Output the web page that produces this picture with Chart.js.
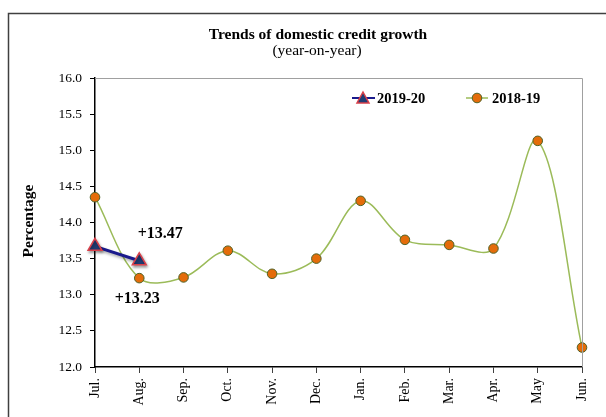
<!DOCTYPE html>
<html>
<head>
<meta charset="utf-8">
<script src="https://cdn.jsdelivr.net/npm/chart.js@4"></script>
<style>
  html, body { margin: 0; padding: 0; background: #fff; }
  #wrap { width: 606px; height: 417px; position: relative; }
</style>
</head>
<body>
<div id="wrap"><canvas id="creditChart" width="606" height="417"></canvas></div>
<script>
const months = ["Jul.", "Aug.", "Sep.", "Oct.", "Nov.", "Dec.", "Jan.", "Feb.", "Mar.", "Apr.", "May", "Jun."];
const growth1920 = [13.67, 13.47];
const growth1819 = [14.35, 13.23, 13.24, 13.61, 13.29, 13.50, 14.30, 13.76, 13.69, 13.64, 15.13, 12.27];
const yTicks = [12.0, 12.5, 13.0, 13.5, 14.0, 14.5, 15.0, 15.5, 16.0];

const serif = "'Liberation Serif', 'Times New Roman', serif";

// soft shadow under the 2019-20 line, like the original
const lineShadow = {
  id: "lineShadow",
  beforeDatasetDraw(chart, args) {
    if (args.index !== 0) return;
    const ctx = chart.ctx;
    ctx.save();
    ctx.shadowColor = "rgba(0,0,0,0.35)";
    ctx.shadowBlur = 3;
    ctx.shadowOffsetX = 1;
    ctx.shadowOffsetY = 2;
  },
  afterDatasetDraw(chart, args) {
    if (args.index !== 0) return;
    chart.ctx.restore();
  }
};

// titles, legend, axis title and the two value labels
const decorations = {
  id: "decorations",
  afterDraw(chart) {
    const ctx = chart.ctx;
    const area = chart.chartArea;
    const x = chart.scales.x;
    const y = chart.scales.y;
    ctx.save();

    // outer frame
    ctx.strokeStyle = "#404040";
    ctx.lineWidth = 1.5;
    ctx.beginPath();
    ctx.moveTo(8.5, 420);
    ctx.lineTo(8.5, 13.5);
    ctx.lineTo(606, 13.5);
    ctx.stroke();

    // plot frame top/right
    ctx.strokeStyle = "#a0a0a0";
    ctx.lineWidth = 1;
    ctx.beginPath();
    ctx.moveTo(area.left, area.top + 0.5);
    ctx.lineTo(area.right + 0.5, area.top + 0.5);
    ctx.lineTo(area.right + 0.5, area.bottom);
    ctx.stroke();

    ctx.fillStyle = "#000";
    ctx.textAlign = "center";
    ctx.textBaseline = "alphabetic";
    ctx.font = "bold 15.5px " + serif;
    ctx.fillText("Trends of domestic credit growth", 318, 39);
    ctx.font = "15.5px " + serif;
    ctx.fillText("(year-on-year)", 317, 55);

    // y title
    ctx.save();
    ctx.translate(33, 221);
    ctx.rotate(-Math.PI / 2);
    ctx.font = "bold 15.5px " + serif;
    ctx.textBaseline = "alphabetic";
    ctx.fillText("Percentage", 0, 0);
    ctx.restore();

    // legend
    const ly = 98;
    ctx.lineWidth = 2;
    ctx.strokeStyle = "#1a1a8c";
    ctx.beginPath(); ctx.moveTo(352, ly); ctx.lineTo(375, ly); ctx.stroke();
    ctx.fillStyle = "#1f3b73";
    ctx.strokeStyle = "#d9404a";
    ctx.lineWidth = 1.5;
    ctx.beginPath();
    ctx.moveTo(363, ly - 6); ctx.lineTo(369, ly + 5); ctx.lineTo(357, ly + 5); ctx.closePath();
    ctx.fill(); ctx.stroke();

    ctx.strokeStyle = "#9bbb59";
    ctx.lineWidth = 1.5;
    ctx.beginPath(); ctx.moveTo(466, ly); ctx.lineTo(488, ly); ctx.stroke();
    ctx.fillStyle = "#e46c0a";
    ctx.strokeStyle = "#4f6228";
    ctx.lineWidth = 1;
    ctx.beginPath(); ctx.arc(477, ly, 4.8, 0, Math.PI * 2); ctx.fill(); ctx.stroke();

    ctx.fillStyle = "#000";
    ctx.textAlign = "left";
    ctx.textBaseline = "middle";
    ctx.font = "bold 14.5px " + serif;
    ctx.fillText("2019-20", 377, ly + 1);
    ctx.fillText("2018-19", 492, ly + 1);

    // value labels
    ctx.font = "bold 16px " + serif;
    ctx.textAlign = "center";
    const ax = x.getPixelForValue(1);
    ctx.fillText("+" + growth1920[1].toFixed(2), ax + 21, y.getPixelForValue(growth1920[1]) - 27);
    ctx.fillText("+" + growth1819[1].toFixed(2), ax - 2, y.getPixelForValue(growth1819[1]) + 21);

    ctx.restore();
  }
};

new Chart(document.getElementById("creditChart"), {
  type: "line",
  data: {
    labels: months,
    datasets: [
      {
        label: "2019-20",
        data: growth1920,
        borderColor: "#1a1a8c",
        borderWidth: 3,
        pointStyle: "triangle",
        pointRadius: 8,
        pointBackgroundColor: "#1f3b73",
        pointBorderColor: "#d9404a",
        pointBorderWidth: 1.5,
        tension: 0,
        clip: false,
        order: 0
      },
      {
        label: "2018-19",
        data: growth1819,
        borderColor: "#9bbb59",
        borderWidth: 1.5,
        pointStyle: "circle",
        pointRadius: 4.8,
        pointBackgroundColor: "#e46c0a",
        pointBorderColor: "#4f6228",
        pointBorderWidth: 1,
        tension: 0.35,
        clip: false,
        order: 1
      }
    ]
  },
  options: {
    responsive: false,
    animation: false,
    layout: { padding: { left: 0, right: 24, top: 78, bottom: 0 } },
    plugins: {
      legend: { display: false },
      tooltip: { enabled: false }
    },
    scales: {
      x: {
        offset: false,
        grid: { drawOnChartArea: false, tickLength: 6, color: "#404040" },
        border: { color: "#000", width: 1.5 },
        ticks: {
          color: "#000",
          font: { family: serif, size: 14 },
          minRotation: 90,
          maxRotation: 90,
          padding: 5,
          autoSkip: false
        },
        afterFit(scale) { scale.height = 50; }
      },
      y: {
        min: 12,
        max: 16,
        afterBuildTicks(scale) { scale.ticks = yTicks.map(v => ({ value: v })); },
        grid: { drawOnChartArea: false, tickLength: 5, color: "#000" },
        border: { color: "#000", width: 1.5 },
        ticks: {
          color: "#000",
          font: { family: serif, size: 13.5 },
          padding: 8,
          callback: v => Number(v).toFixed(1)
        },
        afterFit(scale) { scale.width = 95; }
      }
    }
  },
  plugins: [lineShadow, decorations]
});
</script>
</body>
</html>
